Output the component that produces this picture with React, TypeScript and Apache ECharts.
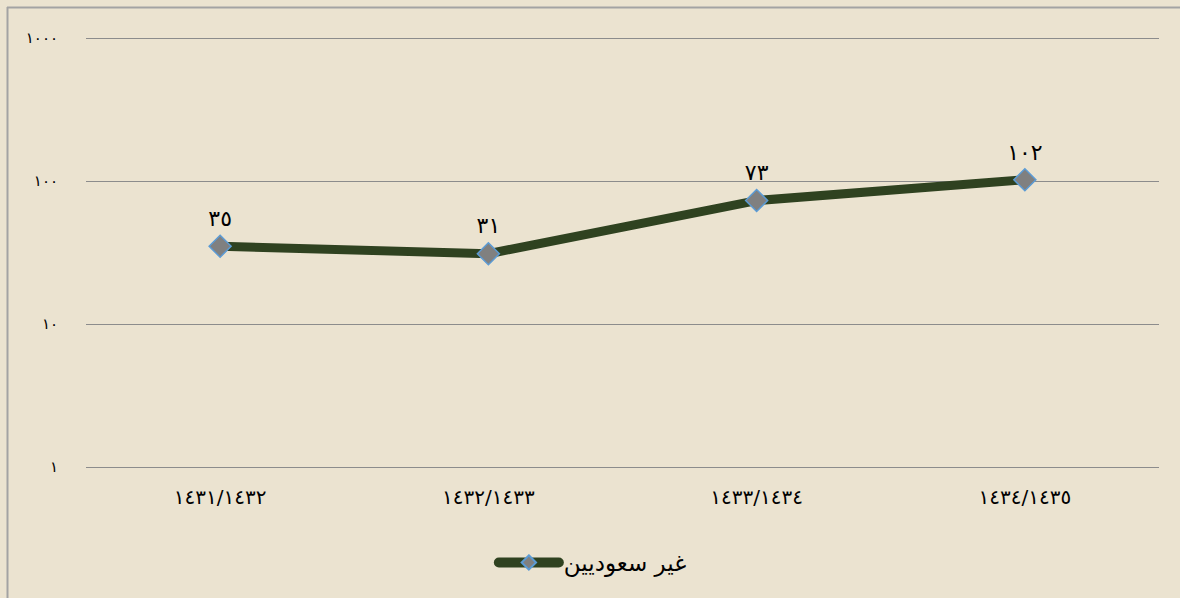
import React, { useEffect, useRef } from "react";
import * as echarts from "echarts";

const categories = ["١٤٣١/١٤٣٢", "١٤٣٢/١٤٣٣", "١٤٣٣/١٤٣٤", "١٤٣٤/١٤٣٥"];
const seriesName = "غير سعوديين";
const values = [35, 31, 73, 102];

const toArabic = (n: number | string) =>
  String(n).replace(/[0-9]/g, (d) => "٠١٢٣٤٥٦٧٨٩"[Number(d)]);

const FONT = "DejaVu Sans";

export default function App() {
  const ref = useRef<HTMLDivElement>(null);
  useEffect(() => {
    document.body.style.margin = "0";
    document.body.style.background = "#EBE3D0";
    const chart = echarts.init(ref.current!, null, { renderer: "svg" });
    chart.setOption({
      animation: false,
      backgroundColor: "#EBE3D0",
      graphic: [
        { type: "line", shape: { x1: 7.5, y1: 7, x2: 7.5, y2: 598 }, style: { stroke: "#A3A3A3", lineWidth: 2 } },
        { type: "line", shape: { x1: 7, y1: 7.5, x2: 1180, y2: 7.5 }, style: { stroke: "#A3A3A3", lineWidth: 2 } },
      ],
      grid: { left: 86, right: 21, top: 38, bottom: 131 },
      legend: {
        data: [seriesName],
        left: "center",
        top: 546,
        itemWidth: 60,
        itemHeight: 18,
        itemGap: 4,
        lineStyle: { width: 10, cap: "round" },
        textStyle: { fontFamily: FONT, fontSize: 23, color: "#000" },
      },
      xAxis: {
        type: "category",
        data: categories,
        axisLine: { show: false },
        axisTick: { show: false },
        axisLabel: { fontFamily: FONT, fontSize: 20, color: "#000", margin: 20 },
      },
      yAxis: {
        type: "log",
        logBase: 10,
        min: 1,
        max: 1000,
        axisLine: { show: false },
        axisTick: { show: false },
        splitLine: { lineStyle: { color: "#8C8C8C", width: 1 } },
        axisLabel: {
          fontFamily: FONT,
          fontSize: 15,
          color: "#000",
          margin: 28,
          formatter: (v: number) => toArabic(Math.round(v)),
        },
      },
      series: [
        {
          name: seriesName,
          type: "line",
          data: values,
          symbol: "diamond",
          symbolSize: 22,
          itemStyle: { color: "#808080", borderColor: "#5B9BD5", borderWidth: 1.5 },
          lineStyle: { color: "#2F4220", width: 9 },
          label: {
            show: true,
            position: "top",
            distance: 5,
            fontFamily: FONT,
            fontSize: 22,
            color: "#000",
            formatter: (p: any) => toArabic(p.value),
          },
        },
      ],
    });
    return () => chart.dispose();
  }, []);
  return <div ref={ref} style={{ position: "absolute", left: 0, top: 0, width: 1180, height: 598 }} />;
}
